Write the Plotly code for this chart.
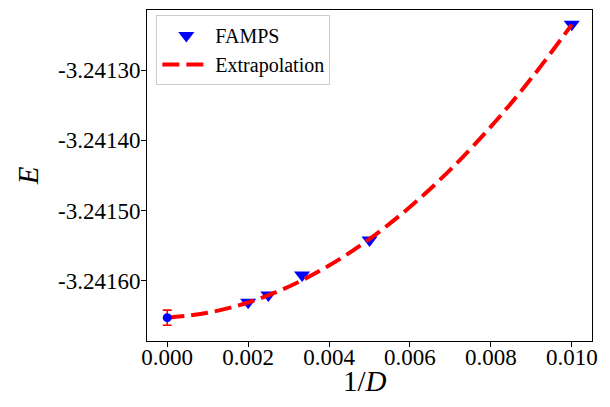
import plotly.graph_objects as go

# FAMPS data (1/D, energy)
inv_D = [0.002, 0.0025, 1/300, 0.005, 0.010]
energy = [-3.2416306, -3.2416202, -3.2415917, -3.2415419, -3.2412350]

# Extrapolated value at 1/D = 0
extrap_x = [0.0]
extrap_E = [-3.2416525]
extrap_err = [0.0000107]

# Extrapolation curve
curve_x = [0.000, 0.001, 0.002, 0.003, 0.004, 0.005, 0.006, 0.007, 0.008, 0.009, 0.010]
curve_E = [-3.2416525, -3.2416455, -3.2416309, -3.2416085, -3.2415783, -3.2415405,
           -3.2414949, -3.2414417, -3.2413807, -3.2413119, -3.2412355]

# Tick labels
x_ticks = [0.000, 0.002, 0.004, 0.006, 0.008, 0.010]
x_tick_text = ["0.000", "0.002", "0.004", "0.006", "0.008", "0.010"]
y_ticks = [-3.24130, -3.24140, -3.24150, -3.24160]
y_tick_text = ["-3.24130", "-3.24140", "-3.24150", "-3.24160"]

fig = go.Figure()

fig.add_trace(go.Scatter(
    x=inv_D, y=energy, mode="markers", name="FAMPS",
    marker=dict(symbol="triangle-down", size=14, color="blue", line=dict(width=0)),
))

fig.add_trace(go.Scatter(
    x=curve_x, y=curve_E, mode="lines", name="Extrapolation",
    line=dict(color="red", width=4, dash="17px,7px", shape="spline"),
))

fig.add_trace(go.Scatter(
    x=extrap_x, y=extrap_E, mode="markers", showlegend=False,
    marker=dict(symbol="circle", size=9, color="blue"),
    error_y=dict(type="data", array=extrap_err, visible=True, color="red",
                 thickness=1.6, width=4.5),
))

axis_common = dict(
    showline=True, linecolor="black", linewidth=1, mirror=True,
    ticks="outside", ticklen=5, tickwidth=1, tickcolor="black",
    showgrid=False, zeroline=False, automargin=False,
    tickfont=dict(size=23, family="Liberation Serif", color="black"),
)

fig.update_xaxes(
    range=[-0.0005, 0.0105], tickvals=x_ticks, ticktext=x_tick_text,
    ticklabelstandoff=-10,
    **axis_common,
)
fig.update_yaxes(
    range=[-3.2416857, -3.2412146], tickvals=y_ticks, ticktext=y_tick_text,
    ticklabelstandoff=-4,
    **axis_common,
)

fig.add_annotation(
    text="1/<i>D</i>", xref="paper", yref="paper", x=0.489, y=-0.12,
    xanchor="center", yanchor="middle", showarrow=False,
    font=dict(size=29, family="Liberation Serif", color="black"),
)
fig.add_annotation(
    text="<i>E</i>", xref="paper", yref="paper", x=-0.268, y=0.5,
    xanchor="center", yanchor="middle", showarrow=False, textangle=-90,
    font=dict(size=29, family="Liberation Serif", color="black"),
)

fig.update_layout(
    width=602, height=399,
    margin=dict(l=139, r=18, t=2, b=66),
    paper_bgcolor="white", plot_bgcolor="white",
    font=dict(family="Liberation Serif", color="black"),
    showlegend=True,
    legend=dict(
        x=0.021, y=0.985, xanchor="left", yanchor="top",
        bgcolor="white", bordercolor="#cccccc", borderwidth=1,
        font=dict(size=20, family="Liberation Serif", color="black"),
        itemwidth=48,
    ),
)

fig.write_html("out.html")
